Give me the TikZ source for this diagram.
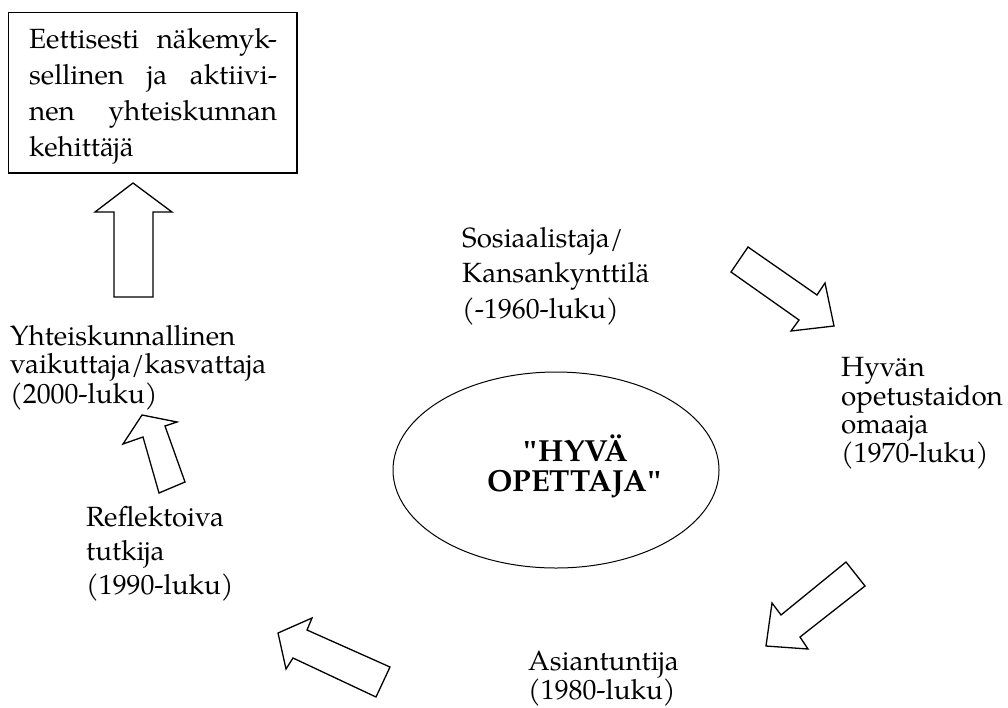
\documentclass[tikz,border=0pt]{standalone}
\usepackage{fontspec}
\setmainfont{TeX Gyre Pagella}
\newfontfamily\quotefont{Liberation Serif}
\usetikzlibrary{shapes.geometric}
\newcommand{\sq}{{\quotefont\bfseries"}}
\begin{document}
\begin{tikzpicture}[x=1pt,y=-1pt,
  outline/.style={draw=black, line width=1.3pt, line join=miter, fill=white},
  blockarrow/.style={outline},
  txt/.style={anchor=base west, inner sep=0pt, font=\fontsize{27.8}{28}\selectfont}]
\useasboundingbox (0,0) rectangle (1008,707);

% goal box at the top left
\draw[outline] (8.5,12.5) rectangle (297,173);
\node[txt] (goal) at (29,48.3) {\vtop{\baselineskip=36pt
  \hbox to 248pt{Eettisesti\hfil näkemyk-}
  \hbox to 248pt{sellinen\hfil ja\hfil aktiivi-}
  \hbox to 248pt{nen\hfil yhteiskunnan}
  \hbox{kehittäjä}}};

% central ellipse
\node[draw, ellipse, line width=1pt, minimum width=326pt, minimum height=196pt, inner sep=0pt]
  (core) at (556,470) {};
\node[anchor=base, inner sep=0pt, font=\fontsize{30.5}{30}\selectfont\bfseries]
  (coretext) at (575,461.7) {\vtop{\baselineskip=30pt
  \hbox to 220pt{\hss\sq HYVÄ\hss}
  \hbox to 220pt{\hss OPETTAJA\kern-1.5pt\sq\hss}}};

% stage labels
\node[txt] (s1960) at (462,247) {\vtop{\baselineskip=35.5pt
  \hbox{Sosiaalistaja/}\hbox{Kansankynttilä}\hbox{(-1960-luku)}}};
\node[txt] (s1970) at (841,376) {\vtop{\baselineskip=28pt
  \hbox{Hyvän}\hbox{opetustaidon}\hbox{omaaja}\hbox{(1970-luku)}}};
\node[txt] (s1980) at (528,670) {\vtop{\baselineskip=25.5pt
  \hbox{Asiantuntija}\hbox{(1980-luku)}}};
\node[txt] (s1990) at (86,526.7) {\vtop{\baselineskip=34pt
  \hbox{Reflektoiva}\hbox{tutkija}\hbox{(1990-luku)}}};
\node[txt] (s2000) at (10,345.7) {\vtop{\baselineskip=28pt
  \hbox{Yhteiskunnallinen}\hbox{vaikuttaja/kasvattaja}\hbox{(2000-luku)}}};

% block arrows between the stages
\draw[blockarrow] (114,297) -- (114,212) -- (95,212) -- (133,183) -- (172,212)
  -- (153,212) -- (153,297) -- cycle;
\draw[blockarrow] (748,247) -- (817,295) -- (825,283) -- (834,326) -- (791,331)
  -- (799,320) -- (731,272) -- cycle;
\draw[blockarrow] (846,562) -- (865,586) -- (800,637) -- (808,649) -- (766,646)
  -- (772,603) -- (781,615) -- cycle;
\draw[blockarrow] (390,667) -- (376,697) -- (293,658) -- (286,669) -- (278,633)
  -- (312,618) -- (307,630) -- cycle;
\draw[blockarrow] (185,482) -- (159,493) -- (143,437) -- (123,444) -- (142,415)
  -- (177,422) -- (165,426) -- cycle;
\end{tikzpicture}
\end{document}
